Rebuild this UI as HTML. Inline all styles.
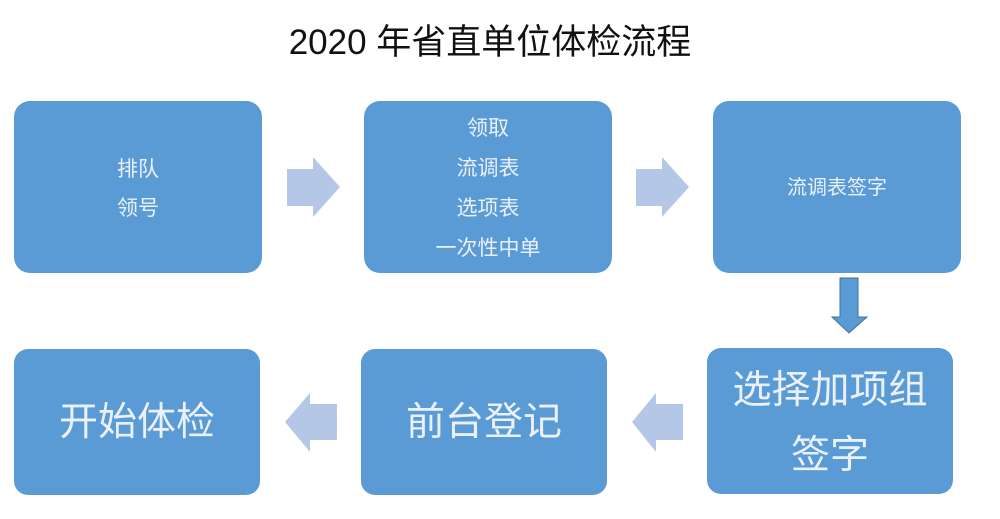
<!DOCTYPE html>
<html><head><meta charset="utf-8"><style>
html,body{margin:0;padding:0;background:#fff;}
svg{display:block;}
text{font-family:"Liberation Sans","Noto Sans CJK SC",sans-serif;}
</style></head><body>
<svg width="1000" height="519" viewBox="0 0 1000 519" xmlns="http://www.w3.org/2000/svg">
<text x="490" y="54" font-size="35" text-anchor="middle" fill="#111">2020 年省直单位体检流程</text>
<g fill="#5b9bd5">
<rect x="14" y="101" width="248" height="172" rx="16"/>
<rect x="364" y="101" width="248" height="172" rx="16"/>
<rect x="713" y="101" width="248" height="172" rx="16"/>
<rect x="14" y="349" width="246" height="146" rx="14"/>
<rect x="361" y="349" width="246" height="146" rx="14"/>
<rect x="707" y="348" width="246" height="146" rx="14"/>
</g>
<g fill="#b4c7e7">
<polygon points="287,169 313,169 313,157 340,187 313,217 313,206 287,206"/>
<polygon points="636,169 662,169 662,157 689,187 662,217 662,206 636,206"/>
<polygon points="683,404 656,404 656,393 632,422 656,452 656,440 683,440"/>
<polygon points="337,404 310,404 310,393 285,422 310,452 310,440 337,440"/>
</g>
<polygon points="840,278 858,278 858,317 867,317 849,333 832,317 840,317" fill="#5b9bd5" stroke="#41719c" stroke-width="1"/>
<g fill="#eaf1fa" text-anchor="middle">
<text x="138" y="176" font-size="21">排队</text>
<text x="138" y="215" font-size="21">领号</text>
<text x="488" y="135" font-size="21">领取</text>
<text x="488" y="175" font-size="21">流调表</text>
<text x="488" y="215" font-size="21">选项表</text>
<text x="488" y="255" font-size="21">一次性中单</text>
<text x="837" y="194" font-size="20">流调表签字</text>
<text x="137" y="435" font-size="39">开始体检</text>
<text x="484" y="435" font-size="39">前台登记</text>
<text x="830" y="403" font-size="39">选择加项组</text>
<text x="830" y="468" font-size="39">签字</text>
</g>
</svg>
</body></html>
